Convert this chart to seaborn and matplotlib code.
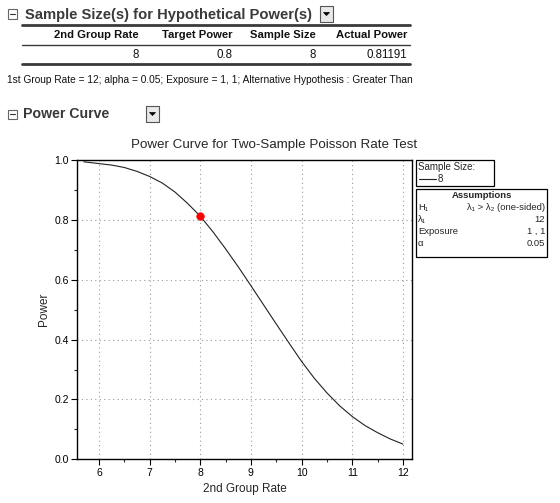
import matplotlib
matplotlib.use("Agg")
import matplotlib.pyplot as plt
from matplotlib.patches import Rectangle, Polygon
from matplotlib.lines import Line2D
import pandas as pd
import seaborn as sns

# Power curve values
rate2 = [5.7, 6.0, 6.25, 6.5, 6.75, 7.0, 7.25, 7.5, 7.75, 8.0, 8.25, 8.5,
         8.75, 9.0, 9.25, 9.5, 9.75, 10.0, 10.25, 10.5, 10.75, 11.0, 11.25,
         11.5, 11.75, 12.0]
power = [0.994, 0.988, 0.983, 0.975, 0.962, 0.945, 0.923, 0.893, 0.855, 0.812,
         0.760, 0.703, 0.643, 0.580, 0.516, 0.452, 0.389, 0.327, 0.271, 0.222,
         0.179, 0.143, 0.113, 0.089, 0.068, 0.051]

# Hypothetical power result
result_rate = [8]
result_power = [0.81191]

table_cols = ["2nd Group Rate", "Target Power", "Sample Size", "Actual Power"]
table_vals = ["8", "0.8", "8", "0.81191"]
note = ("1st Group Rate = 12; alpha = 0.05; Exposure = 1, 1; "
        "Alternative Hypothesis : Greater Than")

assump_keys = ["H\u2081", "\u03bb\u2081", "Exposure", "\u03b1"]
assump_vals = ["\u03bb\u2081 > \u03bb\u2082 (one-sided)", "12", "1 , 1", "0.05"]

x_ticks = [6, 7, 8, 9, 10, 11, 12]
y_ticks = [0.0, 0.2, 0.4, 0.6, 0.8, 1.0]

W, H = 560, 503


def fx(x):
    return x / W


def fy(y):
    return 1 - y / H


sns.set_theme(style="ticks")
plt.rcParams["font.family"] = ["Liberation Sans", "DejaVu Sans"]

fig = plt.figure(figsize=(W / 100, H / 100), dpi=100)
fig.patch.set_facecolor("white")


def collapse_icon(x, y):
    fig.add_artist(Rectangle((fx(x), fy(y + 4.5)), 9 / W, 9 / H, transform=fig.transFigure,
                             fill=False, edgecolor="#666666", linewidth=0.8))
    fig.add_artist(Line2D([fx(x + 2), fx(x + 7)], [fy(y), fy(y)], transform=fig.transFigure,
                          color="#333333", linewidth=0.8))


def dropdown(x, y):
    fig.add_artist(Rectangle((fx(x), fy(y + 8)), 13 / W, 16 / H, transform=fig.transFigure,
                             facecolor="#e8e8e8", edgecolor="#555555", linewidth=0.8))
    fig.add_artist(Polygon([(fx(x + 3.5), fy(y - 1.5)), (fx(x + 9.5), fy(y - 1.5)),
                            (fx(x + 6.5), fy(y + 1.5))], closed=True,
                           transform=fig.transFigure, facecolor="black", edgecolor="black",
                           linewidth=0.5))


# ---- top result table ----
collapse_icon(8, 14)
fig.text(fx(25), fy(15), "Sample Size(s) for Hypothetical Power(s)", fontsize=10.6,
         fontweight="bold", color="#3a3a3a", va="center", ha="left")
dropdown(320, 14)

for yy, lw in [(25, 2.0), (44.5, 1.0), (64, 2.0)]:
    fig.add_artist(Line2D([fx(22), fx(410)], [fy(yy), fy(yy)], transform=fig.transFigure,
                          color="#3a3a3a", linewidth=lw))

col_right = [139, 232, 316, 407]
for xr, c, v in zip(col_right, table_cols, table_vals):
    fig.text(fx(xr), fy(35), c, fontsize=8.1, fontweight="bold", ha="right", va="center",
             color="#111111")
    fig.text(fx(xr), fy(54.5), v, fontsize=8.3, ha="right", va="center", color="#111111")

fig.text(fx(7), fy(80), note, fontsize=7.25, ha="left", va="center", color="#111111")

# ---- power curve section ----
collapse_icon(8, 114)
fig.text(fx(23), fy(114), "Power Curve", fontsize=10.2, fontweight="bold",
         color="#3a3a3a", va="center", ha="left")
dropdown(146, 114)

ax = fig.add_axes([fx(77), fy(459.3), (412 - 77) / W, (459.3 - 160) / H])
curve = pd.DataFrame({"rate": rate2, "power": power})
point = pd.DataFrame({"rate": result_rate, "power": result_power})
sns.lineplot(data=curve, x="rate", y="power", ax=ax, color="#222222", linewidth=0.8)
sns.scatterplot(data=point, x="rate", y="power", ax=ax, color="red", s=30,
                edgecolor="red", zorder=5)

ax.set_xlim(5.566, 12.18)
ax.set_ylim(0, 1.0)
ax.set_xticks(x_ticks)
ax.set_yticks(y_ticks)
ax.set_xticks([6.5, 7.5, 8.5, 9.5, 10.5, 11.5], minor=True)
ax.set_yticks([0.1, 0.3, 0.5, 0.7, 0.9], minor=True)
ax.set_yticklabels([f"{t:.1f}" for t in y_ticks])
ax.tick_params(axis="both", which="major", direction="out", length=4, width=0.8,
               labelsize=7.5, colors="black", pad=2)
ax.tick_params(axis="both", which="minor", direction="out", length=2.5, width=0.8)
for s in ax.spines.values():
    s.set_visible(True)
    s.set_linewidth(1.0)
    s.set_color("black")
ax.grid(True, which="major", color="#999999", linestyle=(0, (1, 3)), linewidth=0.8)
ax.set_axisbelow(True)
ax.set_xlabel("2nd Group Rate", fontsize=8.5, labelpad=4)
ax.set_ylabel("Power", fontsize=8.5, labelpad=3)
fig.text(fx(274), fy(145), "Power Curve for Two-Sample Poisson Rate Test", fontsize=9.6,
         ha="center", va="center")

# ---- legend box ----
fig.add_artist(Rectangle((fx(416), fy(186)), (494 - 416) / W, 26 / H,
                         transform=fig.transFigure, fill=False, edgecolor="black",
                         linewidth=0.9))
fig.text(fx(418), fy(167), "Sample Size:", fontsize=7.0, ha="left", va="center")
fig.add_artist(Line2D([fx(419), fx(436)], [fy(179), fy(179)], transform=fig.transFigure,
                      color="#222222", linewidth=0.8))
fig.text(fx(438), fy(179), "8", fontsize=7.0, ha="left", va="center")

# ---- assumptions box ----
fig.add_artist(Rectangle((fx(416), fy(257)), (547 - 416) / W, (257 - 189) / H,
                         transform=fig.transFigure, fill=False, edgecolor="black",
                         linewidth=0.9))
fig.text(fx(481.5), fy(195.5), "Assumptions", fontsize=6.8, fontweight="bold",
         ha="center", va="center")
row_y = [207.5, 219.5, 231.5, 243.5]
for yy, k, v in zip(row_y, assump_keys, assump_vals):
    fig.text(fx(418), fy(yy), k, fontsize=6.8, ha="left", va="center")
    fig.text(fx(545), fy(yy), v, fontsize=6.8, ha="right", va="center")

fig.savefig("out.png", dpi=100, facecolor="white")
